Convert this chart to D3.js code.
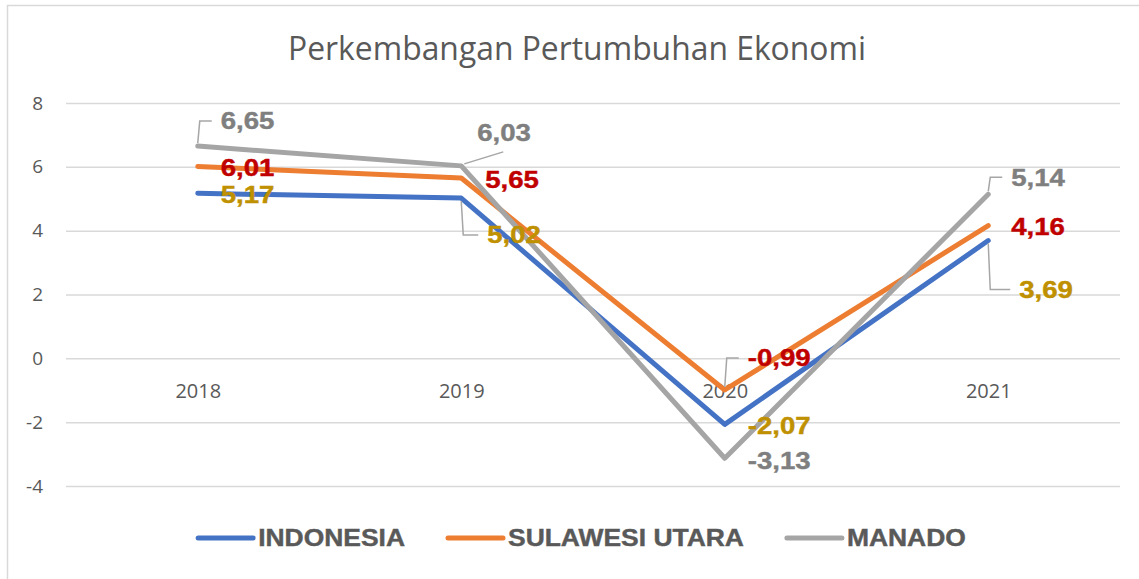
<!DOCTYPE html>
<html>
<head>
<meta charset="utf-8">
<script src="https://cdn.jsdelivr.net/npm/d3@7"></script>
<style>
  body { margin: 0; background: #fff; }
  svg { display: block; }
</style>
</head>
<body>
<div id="chart"></div>
<script>
// Chart data
const years = ['2018', '2019', '2020', '2021']
const indonesia = [5.17, 5.02, -2.07, 3.69]
const sulut = [6.01, 5.65, -0.99, 4.16]
const manado = [6.65, 6.03, -3.13, 5.14]
const seriesNames = ['INDONESIA', 'SULAWESI UTARA', 'MANADO']
const yTicks = [-4, -2, 0, 2, 4, 6, 8]

const w = 1139
const h = 579
const plotLeft = 66
const plotRight = 1120
const plotTop = 103
const plotBottom = 486

const lineColors = ['#4472C4', '#ED7D31', '#A5A5A5']
const labelColors = ['#BF9000', '#C00000', '#7F7F7F']

// label offsets from the point: [dx, dy, leader type]
const labelOffsets = [
  [[23, 1, ''], [26, 37, 'elbow'], [23, 1, ''], [31, 49, 'elbow']],
  [[23, 1, ''], [24, 2, ''], [23, -32, 'elbow'], [23, 1, '']],
  [[23, -25, 'elbow'], [16, -33, 'diag'], [23, 2, ''], [23, -17, 'elbow']]
]

const series = [indonesia, sulut, manado].map((vals, i) => ({
  name: seriesNames[i],
  values: vals.map((v, j) => ({ year: years[j], value: v }))
}))

const svg = d3.select('#chart').append('svg')
  .attr('width', w)
  .attr('height', h)

// outer border (only left and top visible)
svg.append('path')
  .attr('d', `M7.5,${h} L7.5,5.5 L${w},5.5`)
  .attr('fill', 'none')
  .attr('stroke', '#D9D9D9')
  .attr('stroke-width', 1.5)

const x = d3.scalePoint()
  .domain(years)
  .range([plotLeft, plotRight])
  .padding(0.5)

const y = d3.scaleLinear()
  .domain([-4, 8])
  .range([plotBottom, plotTop])

// title
svg.append('text')
  .attr('x', 577)
  .attr('y', 60)
  .attr('text-anchor', 'middle')
  .attr('textLength', 578)
  .attr('lengthAdjust', 'spacingAndGlyphs')
  .style('font-family', '"Open Sans", sans-serif')
  .style('font-size', '32px')
  .style('fill', '#595959')
  .text('Perkembangan Pertumbuhan Ekonomi')

// y axis with gridlines
const yAxis = d3.axisLeft(y)
  .tickValues(yTicks)
  .tickSize(-(plotRight - plotLeft))
  .tickPadding(23)
  .tickFormat(d => d)
const yg = svg.append('g')
  .attr('transform', `translate(${plotLeft}, 0)`)
  .call(yAxis)
yg.select('.domain').remove()
yg.selectAll('line').attr('stroke', '#D9D9D9').attr('stroke-width', 1.5)
yg.selectAll('text')
  .style('font-family', '"Open Sans", sans-serif')
  .style('font-size', '19px')
  .style('fill', '#595959')

// x axis labels sit just under the zero line
const xAxis = d3.axisBottom(x).tickSize(0).tickPadding(25)
const xg = svg.append('g')
  .attr('transform', `translate(0, ${y(0)})`)
  .call(xAxis)
xg.select('.domain').remove()
xg.selectAll('text')
  .style('font-family', '"Open Sans", sans-serif')
  .style('font-size', '20px')
  .style('fill', '#595959')

// lines
const line = d3.line()
  .x(d => x(d.year))
  .y(d => y(d.value))

svg.selectAll('.series')
  .data(series)
  .enter()
  .append('path')
    .attr('class', 'series')
    .attr('d', d => line(d.values))
    .attr('fill', 'none')
    .attr('stroke', (d, i) => lineColors[i])
    .attr('stroke-width', 5)
    .attr('stroke-linecap', 'round')
    .attr('stroke-linejoin', 'round')

// data labels + leader lines
const fmt = v => v.toFixed(2).replace('.', ',')
series.forEach((s, i) => {
  s.values.forEach((d, j) => {
    const px = x(d.year)
    const py = y(d.value)
    const [dx, dy, leader] = labelOffsets[i][j]
    const lx = px + dx
    const ly = py + dy
    if (leader === 'elbow') {
      svg.append('path')
        .attr('d', `M${px},${py + (dy > 0 ? 3 : -3)} L${px + 2},${ly} L${lx - 9},${ly}`)
        .attr('fill', 'none')
        .attr('stroke', '#A6A6A6')
        .attr('stroke-width', 1.5)
    } else if (leader === 'diag') {
      svg.append('path')
        .attr('d', `M${px + 3},${py - 2} L${lx + 26},${ly + 19}`)
        .attr('fill', 'none')
        .attr('stroke', '#A6A6A6')
        .attr('stroke-width', 1.5)
    }
    svg.append('text')
      .attr('transform', `translate(${lx}, ${ly}) scale(1.2, 1)`)
      .attr('dy', '0.36em')
      .style('font-family', '"Liberation Sans", Arial, sans-serif')
      .style('font-weight', 'bold')
      .style('font-size', '23px')
      .style('fill', labelColors[i])
      .style('stroke', labelColors[i])
      .style('stroke-width', 0.4)
      .text(fmt(d.value))
  })
})

// legend
const legend = svg.append('g')
let legX = 0
seriesNames.forEach((name, i) => {
  const g = legend.append('g').attr('transform', `translate(${legX}, 0)`)
  g.append('line')
    .attr('x1', 0).attr('x2', 55)
    .attr('y1', 0).attr('y2', 0)
    .attr('stroke', lineColors[i])
    .attr('stroke-width', 5)
    .attr('stroke-linecap', 'round')
  const t = g.append('text')
    .attr('transform', 'translate(60, 0) scale(1.15, 1)')
    .attr('dy', '0.36em')
    .style('font-family', '"Liberation Sans", Arial, sans-serif')
    .style('font-weight', 'bold')
    .style('font-size', '23px')
    .style('fill', '#595959')
    .style('stroke', '#595959')
    .style('stroke-width', 0.4)
    .text(name)
  legX += 60 + t.node().getComputedTextLength() * 1.15 + 43
})
const legendW = legX - 43
legend.attr('transform', `translate(${582 - legendW / 2}, 538)`)
</script>
</body>
</html>
